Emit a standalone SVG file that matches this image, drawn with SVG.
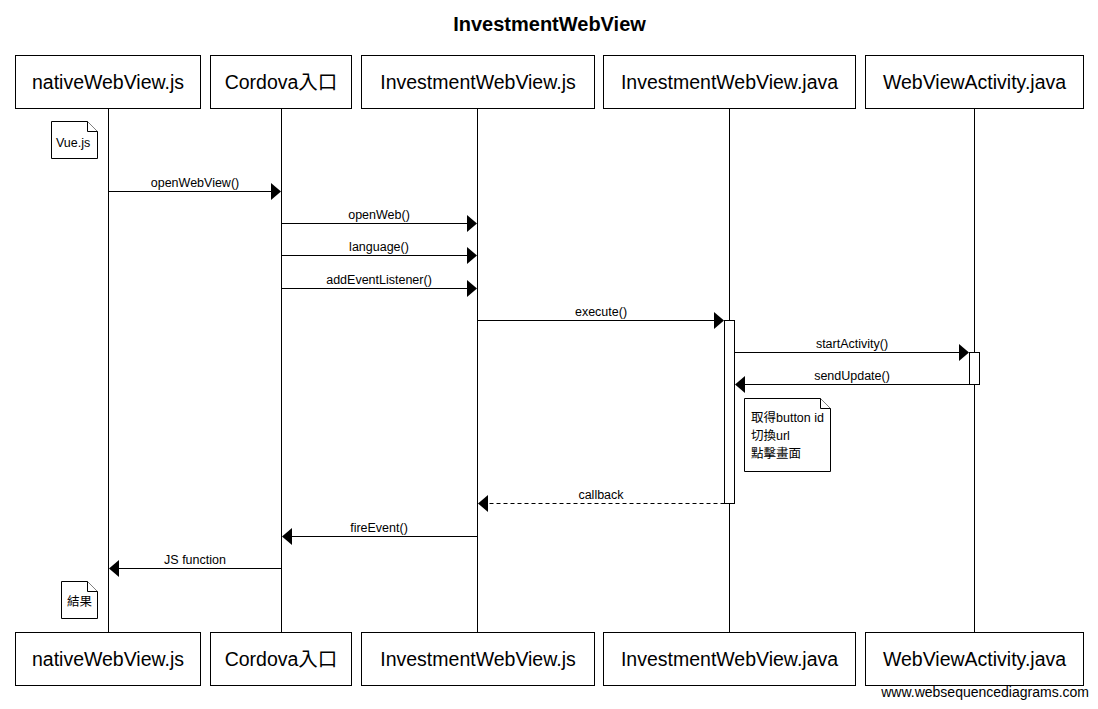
<svg xmlns="http://www.w3.org/2000/svg" width="1098" height="709" viewBox="0 0 1098 709">
<style>
.box{fill:#fff;stroke:#000;stroke-width:1}
.pt{font-family:"Liberation Sans","Noto Sans CJK TC",Arial,sans-serif;font-size:19.5px;fill:#000;text-anchor:middle}
.life{stroke:#000;stroke-width:1;fill:none}
.msg{stroke:#000;stroke-width:1;fill:none}
.dash{stroke-dasharray:4,3}
.lbl{font-family:"Liberation Sans","Noto Sans CJK TC",Arial,sans-serif;font-size:12.5px;fill:#000;text-anchor:middle}
.nt{font-family:"Liberation Sans","Noto Sans CJK TC",Arial,sans-serif;font-size:12.5px;fill:#000}
.note{fill:#fff;stroke:#000;stroke-width:1}
.act{fill:#fff;stroke:#000;stroke-width:1}
.head{fill:#000}
</style>
<rect width="1098" height="709" fill="#fff"/>
<text x="549.5" y="31" font-family="Liberation Sans, Arial, sans-serif" font-size="20" font-weight="bold" text-anchor="middle">InvestmentWebView</text>

<g id="lifelines">
<line class="life" x1="108.5" y1="108" x2="108.5" y2="632"/>
<line class="life" x1="281.5" y1="108" x2="281.5" y2="632"/>
<line class="life" x1="477.5" y1="108" x2="477.5" y2="632"/>
<line class="life" x1="729.5" y1="108" x2="729.5" y2="632"/>
<line class="life" x1="974.5" y1="108" x2="974.5" y2="632"/>
</g>

<g id="nativeWebView">
<rect class="box" x="15.5" y="55.5" width="185" height="53"/>
<text class="pt" x="108" y="89">nativeWebView.js</text>
<rect class="box" x="15.5" y="632.5" width="185" height="53"/>
<text class="pt" x="108" y="666">nativeWebView.js</text>
</g>
<g id="cordova">
<rect class="box" x="210.5" y="55.5" width="141" height="53"/>
<text class="pt" x="281" y="89">Cordova入口</text>
<rect class="box" x="210.5" y="632.5" width="141" height="53"/>
<text class="pt" x="281" y="666">Cordova入口</text>
</g>
<g id="investmentWebViewJs">
<rect class="box" x="361.5" y="55.5" width="233" height="53"/>
<text class="pt" x="478" y="89">InvestmentWebView.js</text>
<rect class="box" x="361.5" y="632.5" width="233" height="53"/>
<text class="pt" x="478" y="666">InvestmentWebView.js</text>
</g>
<g id="investmentWebViewJava">
<rect class="box" x="603.5" y="55.5" width="252" height="53"/>
<text class="pt" x="729.5" y="89">InvestmentWebView.java</text>
<rect class="box" x="603.5" y="632.5" width="252" height="53"/>
<text class="pt" x="729.5" y="666">InvestmentWebView.java</text>
</g>
<g id="webViewActivity">
<rect class="box" x="865.5" y="55.5" width="218" height="53"/>
<text class="pt" x="974.5" y="89">WebViewActivity.java</text>
<rect class="box" x="865.5" y="632.5" width="218" height="53"/>
<text class="pt" x="974.5" y="666">WebViewActivity.java</text>
</g>

<g id="activations">
<rect class="act" x="724.5" y="320.5" width="10" height="183"/>
<rect class="act" x="969.5" y="352.5" width="10" height="32"/>
</g>

<g id="note-vue">
<path class="note" d="M51.5,121.5 H87.5 L97.5,131.5 V158.5 H51.5 Z"/>
<path class="note" d="M87.5,121.5 V131.5 H97.5" fill="none"/>
<text class="nt" x="56" y="147">Vue.js</text>
</g>
<g id="note-java">
<path class="note" d="M744.5,398.5 H820.5 L830.5,408.5 V471.5 H744.5 Z"/>
<path class="note" d="M820.5,398.5 V408.5 H830.5" fill="none"/>
<text class="nt" x="751" y="422">取得button id</text>
<text class="nt" x="751" y="440">切換url</text>
<text class="nt" x="751" y="458">點擊畫面</text>
</g>
<g id="note-result">
<path class="note" d="M61.5,581.5 H87.5 L97.5,591.5 V618.5 H61.5 Z"/>
<path class="note" d="M87.5,581.5 V591.5 H97.5" fill="none"/>
<text class="nt" x="67" y="606">結果</text>
</g>

<g id="connectors">
<line class="msg" x1="108.5" y1="191.5" x2="272" y2="191.5"/>
<polygon class="head" points="281,191.5 271,183 271,200"/>
<text class="lbl" x="195" y="187">openWebView()</text>

<line class="msg" x1="281.5" y1="223.5" x2="468" y2="223.5"/>
<polygon class="head" points="477,223.5 467,215 467,232"/>
<text class="lbl" x="379" y="219">openWeb()</text>

<line class="msg" x1="281.5" y1="255.5" x2="468" y2="255.5"/>
<polygon class="head" points="477,255.5 467,247 467,264"/>
<text class="lbl" x="379" y="251">language()</text>

<line class="msg" x1="281.5" y1="288.5" x2="468" y2="288.5"/>
<polygon class="head" points="477,288.5 467,280 467,297"/>
<text class="lbl" x="379" y="284">addEventListener()</text>

<line class="msg" x1="477.5" y1="320.5" x2="715" y2="320.5"/>
<polygon class="head" points="724,320.5 714,312 714,329"/>
<text class="lbl" x="601" y="316">execute()</text>

<line class="msg" x1="734.5" y1="352.5" x2="960" y2="352.5"/>
<polygon class="head" points="969,352.5 959,344 959,361"/>
<text class="lbl" x="852" y="348">startActivity()</text>

<line class="msg" x1="969.5" y1="384.5" x2="744" y2="384.5"/>
<polygon class="head" points="735,384.5 745,376 745,393"/>
<text class="lbl" x="852" y="380">sendUpdate()</text>

<line class="msg dash" x1="724.5" y1="503.5" x2="487" y2="503.5"/>
<polygon class="head" points="478,503.5 488,495 488,512"/>
<text class="lbl" x="601" y="499">callback</text>

<line class="msg" x1="477.5" y1="536.5" x2="291" y2="536.5"/>
<polygon class="head" points="282,536.5 292,528 292,545"/>
<text class="lbl" x="379" y="532">fireEvent()</text>

<line class="msg" x1="281.5" y1="568.5" x2="118" y2="568.5"/>
<polygon class="head" points="109,568.5 119,560 119,577"/>
<text class="lbl" x="195" y="564">JS function</text>
</g>

<text x="1089" y="697" font-family="Liberation Sans, Arial, sans-serif" font-size="14" text-anchor="end">www.websequencediagrams.com</text>
</svg>
